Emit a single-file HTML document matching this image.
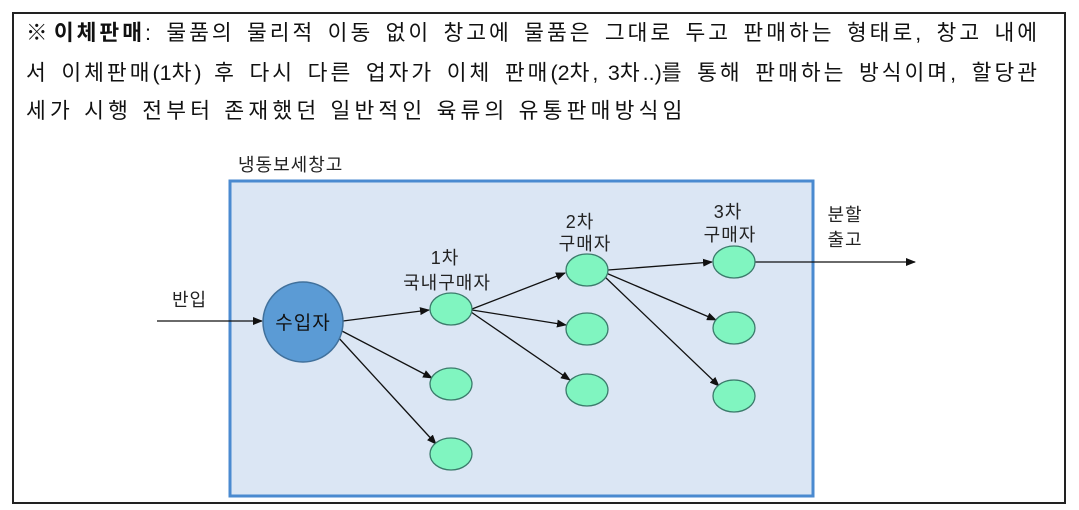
<!DOCTYPE html>
<html><head><meta charset="utf-8"><style>
body{margin:0;background:#fff;width:1079px;height:510px;overflow:hidden;font-family:"Liberation Sans","Noto Sans CJK KR",sans-serif;}
.frame{position:absolute;left:12px;top:12px;width:1054px;height:492px;border:2px solid #222;box-sizing:border-box;}
.t{position:absolute;left:26px;font-size:21.5px;color:#111;white-space:nowrap;letter-spacing:3px;}
.j{width:1014px;text-align:justify;text-align-last:justify;white-space:normal;}
.n{letter-spacing:0;}
</style></head><body>
<div class="frame"></div>
<div class="t j" style="top:16px"><b>※이체판매</b>: 물품의 물리적 이동 없이 창고에 물품은 그대로 두고 판매하는 형태로, 창고 내에</div>
<div class="t j" style="top:56px">서 이체판매<span class="n">(1</span>차<span class="n">)</span> 후 다시 다른 업자가 이체 판매<span class="n">(2</span>차<span class="n">, 3</span>차<span class="n">..)</span>를 통해 판매하는 방식이며, 할당관</div>
<div class="t" style="top:94px;letter-spacing:4.2px">세가 시행 전부터 존재했던 일반적인 육류의 유통판매방식임</div>
<svg width="1079" height="510" style="position:absolute;left:0;top:0" font-family="Liberation Sans, Noto Sans CJK KR, sans-serif" font-size="18" letter-spacing="1" fill="#222">
<defs><marker id="a" markerWidth="10" markerHeight="8" refX="9" refY="4" orient="auto" markerUnits="userSpaceOnUse"><path d="M0,0 L10,4 L0,8z" fill="#111"/></marker></defs>
<rect x="230" y="181" width="583" height="315" fill="#dbe6f4" stroke="#4a8ad0" stroke-width="3"/>
<text x="238" y="171">냉동보세창고</text>
<text x="172" y="306">반입</text>
<text x="445" y="264" text-anchor="middle">1차</text>
<text x="447" y="289" text-anchor="middle">국내구매자</text>
<text x="580" y="228" text-anchor="middle">2차</text>
<text x="585" y="250" text-anchor="middle">구매자</text>
<text x="728" y="218" text-anchor="middle">3차</text>
<text x="730" y="241" text-anchor="middle">구매자</text>
<text x="845" y="221" text-anchor="middle">분할</text>
<text x="845" y="246" text-anchor="middle">출고</text>
<g stroke="#111" stroke-width="1.3" marker-end="url(#a)">
<line x1="157" y1="321" x2="262" y2="321"/>
<line x1="343" y1="321" x2="429" y2="310"/>
<line x1="340" y1="330" x2="432" y2="378"/>
<line x1="337" y1="336" x2="436" y2="444"/>
<line x1="472" y1="309" x2="565" y2="273"/>
<line x1="472" y1="310" x2="566" y2="325"/>
<line x1="471" y1="312" x2="570" y2="380"/>
<line x1="608" y1="270" x2="712" y2="262"/>
<line x1="606" y1="273" x2="716" y2="320"/>
<line x1="604" y1="276" x2="719" y2="386"/>
<line x1="755" y1="262" x2="915" y2="262"/>
</g>
<circle cx="303" cy="322" r="40" fill="#5b9bd5" stroke="#41719c" stroke-width="1.5"/>
<text x="303" y="329" text-anchor="middle" font-size="19" fill="#111">수입자</text>
<g fill="#80f5c0" stroke="#3b7b6b" stroke-width="1.3">
<ellipse cx="451" cy="309" rx="21" ry="16"/>
<ellipse cx="451" cy="384" rx="21" ry="16"/>
<ellipse cx="451" cy="454" rx="21" ry="16"/>
<ellipse cx="587" cy="270" rx="21" ry="16"/>
<ellipse cx="587" cy="329" rx="21" ry="16"/>
<ellipse cx="587" cy="390" rx="21" ry="16"/>
<ellipse cx="734" cy="262" rx="21" ry="16"/>
<ellipse cx="734" cy="328" rx="21" ry="16"/>
<ellipse cx="734" cy="396" rx="21" ry="16"/>
</g>
</svg>
</body></html>
